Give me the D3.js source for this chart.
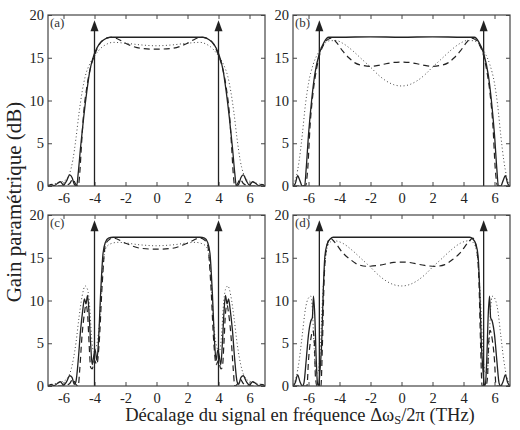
<!DOCTYPE html>
<meta charset="utf-8">
<style>
body { margin: 0; background: #fff; }
.axis path { display: none; }
.axis line { stroke: #444; }
.axis text { fill: #222; }
.frame { fill: none; stroke: #444; stroke-width: 1.2; }
.solid { fill: none; stroke: #222; stroke-width: 1.3; }
.dashed { fill: none; stroke: #222; stroke-width: 1.2; stroke-dasharray: 6,4; }
.dotted { fill: none; stroke: #444; stroke-width: 1; stroke-dasharray: 1,2.5; }
.pump { stroke: #222; stroke-width: 1.3; }
</style>
<svg width="520" height="430"></svg>
<script src="https://d3js.org/d3.v7.min.js"></script>
<script>

var xTicks = [-6, -4, -2, 0, 2, 4, 6],
    yTicks = [0, 5, 10, 15, 20],
    panelLabels = ["(a)", "(b)", "(c)", "(d)"],
    pumpOffsets = [4, 5.3, 4, 5.3];

// (a)
var aSolid = [[-7,0],[-6.8,0.2],[-6.6,0.05],[-6.4,0.3],[-6.2,0.5],[-6,0.1],[-5.8,0.6],[-5.6,1.3],[-5.45,1],[-5.3,0.2],[-5.15,0],[-5.05,1.5],[-4.9,4.5],[-4.7,8],[-4.5,11],[-4.3,13.5],[-4,15.5],[-3.7,16.6],[-3.4,17.1],[-3,17.4],[-2,17.4],[0,17.4],[2,17.4],[3,17.4],[3.4,17.1],[3.7,16.6],[4,15.5],[4.3,13.5],[4.5,11],[4.7,8],[4.9,4.5],[5.05,1.5],[5.15,0],[5.3,0.2],[5.45,1],[5.6,1.3],[5.8,0.6],[6,0.1],[6.2,0.5],[6.4,0.3],[6.6,0.05],[6.8,0.2],[7,0]];
var aDashed = [[-7,0],[-6,0],[-5.6,0.3],[-5.4,0.8],[-5.2,0.2],[-5.05,0],[-4.95,1.5],[-4.85,4.5],[-4.7,8.5],[-4.5,11.5],[-4.3,13.5],[-4,15.3],[-3.6,16.8],[-3.2,17.3],[-2.9,17.4],[-2.5,17.2],[-2,16.7],[-1,16.1],[0,16],[1,16.1],[2,16.7],[2.5,17.2],[2.9,17.4],[3.2,17.3],[3.6,16.8],[4,15.3],[4.3,13.5],[4.5,11.5],[4.7,8.5],[4.85,4.5],[4.95,1.5],[5.05,0],[5.2,0.2],[5.4,0.8],[5.6,0.3],[6,0],[7,0]];
var aDotted = [[-7,0.1],[-6.5,0.3],[-6.1,0.5],[-5.8,0.8],[-5.6,1.5],[-5.4,3],[-5.2,5.5],[-5,8.5],[-4.8,11],[-4.6,12.8],[-4.3,14.3],[-4,15.2],[-3.6,16.1],[-3.2,16.6],[-2.8,16.8],[-2,16.7],[-1,16.5],[0,16.4],[1,16.5],[2,16.7],[2.8,16.8],[3.2,16.6],[3.6,16.1],[4,15.2],[4.3,14.3],[4.6,12.8],[4.8,11],[5,8.5],[5.2,5.5],[5.4,3],[5.6,1.5],[5.8,0.8],[6.1,0.5],[6.5,0.3],[7,0.1]];

// (b)
var bSolid = [[-7,0],[-6.85,0.3],[-6.7,1.2],[-6.55,0.6],[-6.4,0],[-6.25,0],[-6.15,2],[-6,6],[-5.8,10],[-5.6,13],[-5.3,15.5],[-5,16.8],[-4.7,17.4],[-4,17.4],[-2,17.45],[0,17.4],[2,17.45],[4,17.4],[4.7,17.4],[5,16.8],[5.3,15.5],[5.6,13],[5.8,10],[6,6],[6.15,2],[6.25,0],[6.4,0],[6.55,0.6],[6.7,1.2],[6.85,0.3],[7,0]];
var bDashed = [[-7,0],[-6.2,0],[-6.05,2],[-5.9,7],[-5.7,11],[-5.5,13.5],[-5.3,15.2],[-5,16.6],[-4.7,17.2],[-4.5,17.3],[-4.2,16.8],[-3.8,15.8],[-3.4,15],[-3,14.4],[-2.5,14.1],[-2,14],[-1.5,14.1],[-1,14.3],[-0.5,14.45],[0,14.5],[0.5,14.45],[1,14.3],[1.5,14.1],[2,14],[2.5,14.1],[3,14.4],[3.4,15],[3.8,15.8],[4.2,16.8],[4.5,17.3],[4.7,17.2],[5,16.6],[5.3,15.2],[5.5,13.5],[5.7,11],[5.9,7],[6.05,2],[6.2,0],[7,0]];
var bDotted = [[-7,0.2],[-6.8,1],[-6.6,3],[-6.4,6],[-6.2,9.5],[-6,12],[-5.7,14.2],[-5.4,15.5],[-5,16.6],[-4.6,17],[-4.2,17],[-3.8,16.7],[-3.2,15.9],[-2.6,14.9],[-2,13.9],[-1.5,13],[-1,12.3],[-0.5,11.85],[0,11.7],[0.5,11.85],[1,12.3],[1.5,13],[2,13.9],[2.6,14.9],[3.2,15.9],[3.8,16.7],[4.2,17],[4.6,17],[5,16.6],[5.4,15.5],[5.7,14.2],[6,12],[6.2,9.5],[6.4,6],[6.6,3],[6.8,1],[7,0.2]];

// (c)
var cSolid = [[-7,0],[-6.8,0.2],[-6.6,0.05],[-6.4,0.3],[-6.2,0.5],[-6,0.1],[-5.8,0.5],[-5.6,1.2],[-5.45,1],[-5.3,0.2],[-5.2,0.5],[-5.05,3],[-4.9,6.5],[-4.75,9],[-4.65,10.2],[-4.55,9.6],[-4.45,10.6],[-4.35,8.5],[-4.25,5],[-4.15,2.5],[-4.05,3.5],[-3.95,4.2],[-3.85,3],[-3.75,5],[-3.6,11],[-3.45,15.5],[-3.3,16.8],[-3.1,17.3],[-2.8,17.4],[0,17.4],[2.8,17.4],[3.1,17.3],[3.3,16.8],[3.45,15.5],[3.6,11],[3.75,5],[3.85,3],[3.95,4.2],[4.05,3.5],[4.15,2.5],[4.25,5],[4.35,8.5],[4.45,10.6],[4.55,9.6],[4.65,10.2],[4.75,9],[4.9,6.5],[5.05,3],[5.2,0.5],[5.3,0.2],[5.45,1],[5.6,1.2],[5.8,0.5],[6,0.1],[6.2,0.5],[6.4,0.3],[6.6,0.05],[6.8,0.2],[7,0]];
var cDashed = [[-7,0],[-6,0],[-5.6,0.3],[-5.4,0.8],[-5.2,0.2],[-5.05,0],[-4.95,2],[-4.8,6],[-4.65,8.5],[-4.55,9.5],[-4.45,8.5],[-4.35,5],[-4.25,2.2],[-4.15,2],[-4,3],[-3.85,2.5],[-3.7,5],[-3.5,12],[-3.3,16.5],[-3,17.2],[-2.8,17.3],[-2,16.7],[-1,16.1],[0,16],[1,16.1],[2,16.7],[2.8,17.3],[3,17.2],[3.3,16.5],[3.5,12],[3.7,5],[3.85,2.5],[4,3],[4.15,2],[4.25,2.2],[4.35,5],[4.45,8.5],[4.55,9.5],[4.65,8.5],[4.8,6],[4.95,2],[5.05,0],[5.2,0.2],[5.4,0.8],[5.6,0.3],[6,0],[7,0]];
var cDotted = [[-7,0.1],[-6.5,0.3],[-6.1,0.5],[-5.8,0.8],[-5.5,2],[-5.2,5],[-5,8],[-4.8,10.5],[-4.6,11.7],[-4.45,11.3],[-4.3,9],[-4.2,6],[-4.05,4],[-3.9,4.5],[-3.7,7],[-3.5,13],[-3.3,16],[-3,16.6],[-2.5,16.8],[-1,16.5],[0,16.4],[1,16.5],[2.5,16.8],[3,16.6],[3.3,16],[3.5,13],[3.7,7],[3.9,4.5],[4.05,4],[4.2,6],[4.3,9],[4.45,11.3],[4.6,11.7],[4.8,10.5],[5,8],[5.2,5],[5.5,2],[5.8,0.8],[6.1,0.5],[6.5,0.3],[7,0.1]];

// (d)
var dSolid = [[-7,0],[-6.85,0.4],[-6.7,1.3],[-6.55,0.5],[-6.4,0],[-6.3,0.3],[-6.15,3],[-6,6],[-5.85,7.6],[-5.75,8],[-5.68,10.5],[-5.6,8.5],[-5.5,3],[-5.42,0.3],[-5.35,0],[-5.25,2],[-5.15,5],[-5.05,11],[-4.95,15],[-4.8,16.6],[-4.6,17.2],[-4.4,17.4],[0,17.4],[4.4,17.4],[4.6,17.2],[4.8,16.6],[4.95,15],[5.05,11],[5.15,5],[5.25,2],[5.35,0],[5.42,0.3],[5.5,3],[5.6,8.5],[5.68,10.5],[5.75,8],[5.85,7.6],[6,6],[6.15,3],[6.3,0.3],[6.4,0],[6.55,0.5],[6.7,1.3],[6.85,0.4],[7,0]];
var dDashed = [[-7,0],[-6.1,0],[-6,3],[-5.85,5.5],[-5.72,6.5],[-5.62,5],[-5.55,1],[-5.45,0],[-5.2,0],[-5.1,5],[-5,12],[-4.85,16],[-4.6,17.3],[-4.3,16.8],[-3.8,15.6],[-3.3,14.8],[-2.8,14.2],[-2.2,14],[-1.5,14.1],[-0.5,14.45],[0,14.5],[0.5,14.45],[1.5,14.1],[2.2,14],[2.8,14.2],[3.3,14.8],[3.8,15.6],[4.3,16.8],[4.6,17.3],[4.85,16],[5,12],[5.1,5],[5.2,0],[5.45,0],[5.55,1],[5.62,5],[5.72,6.5],[5.85,5.5],[6,3],[6.1,0],[7,0]];
var dDotted = [[-7,0.2],[-6.8,1],[-6.6,3],[-6.4,6],[-6.2,9],[-6,10.3],[-5.85,10.5],[-5.75,9],[-5.65,5],[-5.55,2],[-5.4,1.5],[-5.25,4],[-5.1,10],[-4.9,15],[-4.7,16.6],[-4.4,17],[-3.8,16.7],[-3.2,15.9],[-2.6,14.9],[-2,13.9],[-1.5,13],[-1,12.3],[-0.5,11.85],[0,11.7],[0.5,11.85],[1,12.3],[1.5,13],[2,13.9],[2.6,14.9],[3.2,15.9],[3.8,16.7],[4.4,17],[4.7,16.6],[4.9,15],[5.1,10],[5.25,4],[5.4,1.5],[5.55,2],[5.65,5],[5.75,9],[5.85,10.5],[6,10.3],[6.2,9],[6.4,6],[6.6,3],[6.8,1],[7,0.2]];

var series = [
  [aSolid, aDashed, aDotted],
  [bSolid, bDashed, bDotted],
  [cSolid, cDashed, cDotted],
  [dSolid, dDashed, dDotted]
];
var styles = ["dotted", "dashed", "solid"];

var serif = "'Liberation Serif', 'Times New Roman', serif";

var svg = d3.select("svg"),
    width = 217,
    height = 171,
    origins = [[48, 15], [293, 15], [48, 215], [293, 215]];

var x = d3.scaleLinear().domain([-7, 7]).range([0, width]),
    y = d3.scaleLinear().domain([0, 20]).range([height, 0]);

var line = d3.line()
    .x(function(d) { return x(d[0]); })
    .y(function(d) { return y(d[1]); })
    .curve(d3.curveMonotoneX);

svg.append("defs").append("clipPath")
    .attr("id", "clip")
  .append("rect")
    .attr("width", width)
    .attr("height", height);

series.forEach(function(curves, i) {
  var g = svg.append("g")
      .attr("transform", "translate(" + origins[i][0] + "," + origins[i][1] + ")");

  g.append("g")
      .attr("class", "axis")
      .attr("transform", "translate(0," + height + ")")
      .call(d3.axisBottom(x).tickValues(xTicks).tickSizeInner(-4).tickSizeOuter(0).tickPadding(7)
        .tickFormat(function(d) { return String(d); }));
  g.append("g")
      .attr("class", "axis")
      .call(d3.axisTop(x).tickValues(xTicks).tickSizeInner(-4).tickSizeOuter(0).tickFormat(""));
  g.append("g")
      .attr("class", "axis")
      .call(d3.axisLeft(y).tickValues(yTicks).tickSizeInner(-4).tickSizeOuter(0).tickPadding(4));
  g.append("g")
      .attr("class", "axis")
      .attr("transform", "translate(" + width + ",0)")
      .call(d3.axisRight(y).tickValues(yTicks).tickSizeInner(-4).tickSizeOuter(0).tickFormat(""));

  g.selectAll(".axis text")
      .attr("font-family", serif)
      .attr("font-size", 14.5);

  var plot = g.append("g").attr("clip-path", "url(#clip)");

  [curves[2], curves[1], curves[0]].forEach(function(c, k) {
    plot.append("path")
        .attr("class", styles[k])
        .attr("d", line(c));
  });

  [-pumpOffsets[i], pumpOffsets[i]].forEach(function(p) {
    var px = x(p);
    g.append("line")
        .attr("class", "pump")
        .attr("x1", px).attr("x2", px)
        .attr("y1", y(0)).attr("y2", y(18.4));
    g.append("path")
        .attr("fill", "#222")
        .attr("d", "M" + px + "," + y(19.4) + "L" + (px + 4) + "," + y(18.1) +
                   "L" + (px - 4) + "," + y(18.1) + "Z");
  });

  g.append("rect")
      .attr("class", "frame")
      .attr("width", width)
      .attr("height", height);

  g.append("text")
      .attr("x", 2)
      .attr("y", 12)
      .attr("font-family", serif)
      .attr("font-size", 13)
      .attr("fill", "#333")
      .text(panelLabels[i]);
});

svg.append("text")
    .attr("transform", "translate(21,202) rotate(-90)")
    .attr("text-anchor", "middle")
    .attr("font-family", serif)
    .attr("font-size", 21)
    .attr("fill", "#222")
    .text("Gain paramétrique (dB)");

var xl = svg.append("text")
    .attr("x", 300)
    .attr("y", 421)
    .attr("text-anchor", "middle")
    .attr("font-family", serif)
    .attr("font-size", 18.5)
    .attr("fill", "#222");
xl.append("tspan").text("Décalage du signal en fréquence Δω");
xl.append("tspan").attr("font-size", 12.5).attr("dy", 3).text("S");
xl.append("tspan").attr("dy", -3).text("/2π (THz)");

</script>
